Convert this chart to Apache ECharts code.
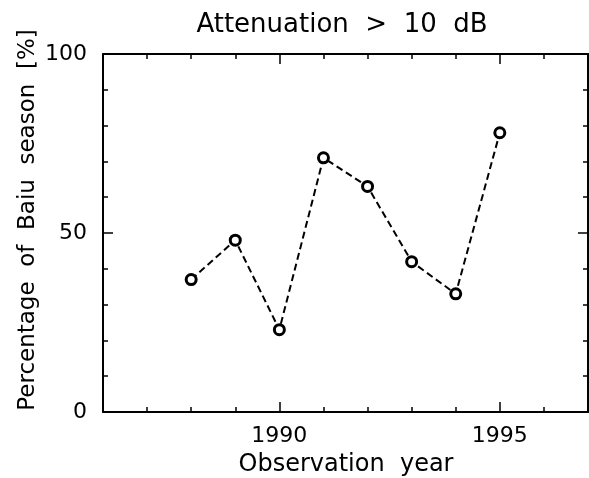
<!DOCTYPE html>
<html>
<head>
<meta charset="utf-8">
<script src="https://cdn.jsdelivr.net/npm/echarts@6/dist/echarts.min.js"></script>
<style>html,body{margin:0;padding:0;background:#fff}#c{width:589px;height:478px}</style>
</head>
<body>
<div id="c"></div>
<script>
var years = [1988, 1989, 1990, 1991, 1992, 1993, 1994, 1995];
var percentValues = [37, 48, 23, 71, 63, 42, 33, 78];
var xTickLabels = [1990, 1995];
var yTickLabels = [0, 50, 100];
var titleText = 'Attenuation  >  10  dB';
var xName = 'Observation  year';
var yName = 'Percentage  of  Baiu  season  [%]';

var FONT = 'DejaVu Sans';
var chart = echarts.init(document.getElementById('c'), null, {renderer: 'canvas'});

function xAx(pos, len, custom, showLine, showLabel) {
  var tick = {show: true, inside: true, length: len, lineStyle: {color: '#000', width: 1.5}};
  if (custom) tick.customValues = custom; else tick.interval = 0;
  return {
    type: 'value', position: pos, min: 1986, max: 1997, interval: 1,
    axisLine: {show: showLine, onZero: false, lineStyle: {color: '#000', width: 2}},
    axisTick: tick,
    splitLine: {show: false},
    axisLabel: showLabel ? {show: true, customValues: xTickLabels, margin: 13,
      formatter: function (v) { return String(v); },
      color: '#000', fontFamily: FONT, fontSize: 22} : {show: false}
  };
}
function yAx(pos, len, custom, showLine, showLabel) {
  var tick = {show: true, inside: true, length: len, lineStyle: {color: '#000', width: 1.5}};
  if (custom) tick.customValues = custom;
  return {
    type: 'value', position: pos, min: 0, max: 100, interval: 10,
    axisLine: {show: showLine, onZero: false, lineStyle: {color: '#000', width: 2}},
    axisTick: tick,
    splitLine: {show: false},
    axisLabel: showLabel ? {show: true, customValues: yTickLabels, margin: 16,
      color: '#000', fontFamily: FONT, fontSize: 22} : {show: false}
  };
}

chart.setOption({
  animation: false,
  backgroundColor: '#fff',
  grid: {left: 103, right: 1, top: 54, bottom: 66},
  xAxis: [
    xAx('bottom', 5, null, true, true),
    xAx('bottom', 10, xTickLabels, false, false),
    xAx('top', 5, null, true, false),
    xAx('top', 10, xTickLabels, false, false)
  ],
  yAxis: [
    yAx('left', 5, null, true, true),
    yAx('left', 10, [50], false, false),
    yAx('right', 5, null, true, false),
    yAx('right', 10, [50], false, false)
  ],
  graphic: [
    {type: 'text', x: 342, y: 25,
     style: {text: titleText, fill: '#000', font: '26px "' + FONT + '"', align: 'center', verticalAlign: 'middle'}},
    {type: 'text', x: 346, y: 465,
     style: {text: xName, fill: '#000', font: '24px "' + FONT + '"', align: 'center', verticalAlign: 'middle'}},
    {type: 'text', x: 28, y: 220, rotation: Math.PI / 2,
     style: {text: yName, fill: '#000', font: '23px "' + FONT + '"', align: 'center', verticalAlign: 'middle'}}
  ],
  series: [{
    type: 'line',
    xAxisIndex: 0, yAxisIndex: 0,
    data: years.map(function (y, i) { return [y, percentValues[i]]; }),
    symbol: 'circle', symbolSize: 10,
    itemStyle: {color: '#fff', borderColor: '#000', borderWidth: 3},
    lineStyle: {color: '#000', width: 2, type: [7, 4]},
    z: 5
  }]
});
</script>
</body>
</html>
